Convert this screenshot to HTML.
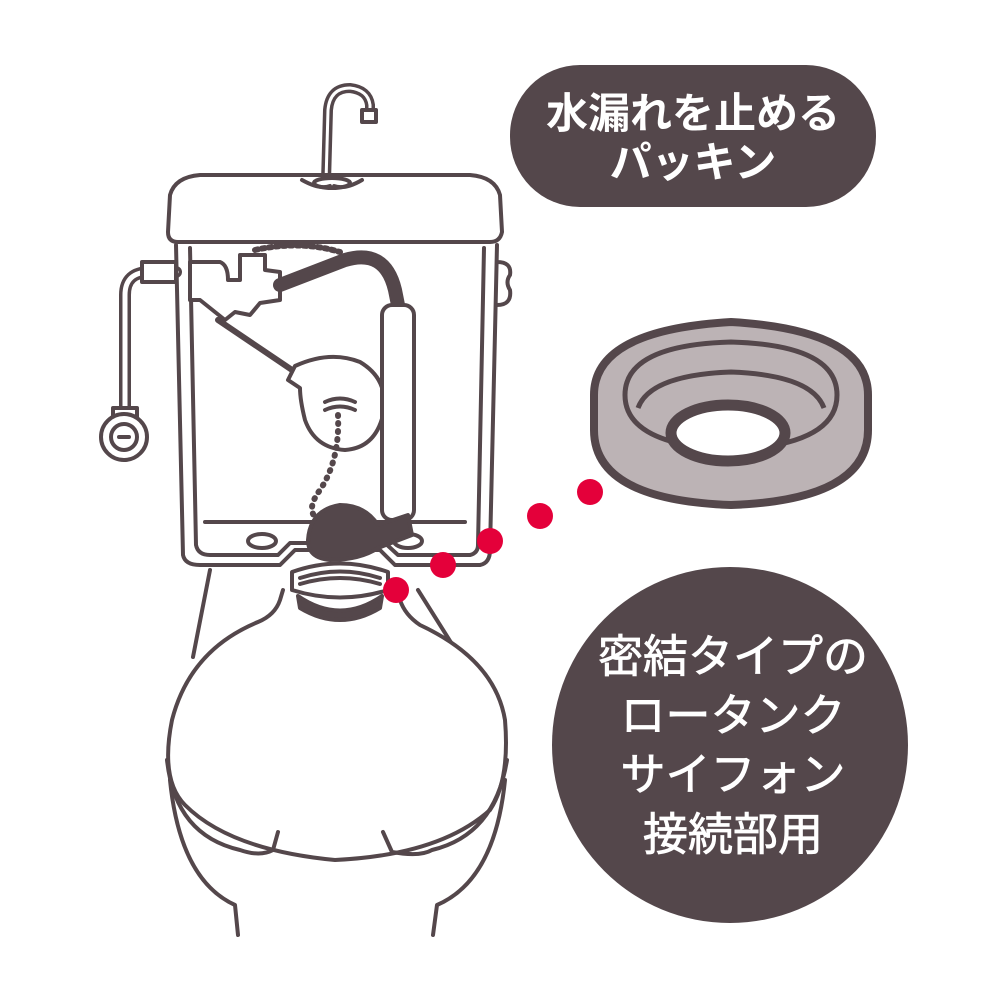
<!DOCTYPE html>
<html><head><meta charset="utf-8"><style>
html,body{margin:0;padding:0;background:#fff}
svg{display:block}
text{font-family:"Liberation Sans","Noto Sans CJK JP",sans-serif}
</style></head><body>
<svg width="1000" height="1000" viewBox="0 0 1000 1000" xmlns="http://www.w3.org/2000/svg">
<g fill="none" stroke="#54474b" stroke-width="4" stroke-linejoin="round" stroke-linecap="round">
<!-- bowl -->
<path d="M210 570 L193 657 M418 590 L462 660"/>
<path d="M283 590 L280 600 Q275 615 258 622 Q190 650 172 720 Q160 780 185 805 Q230 850 335 860 Q440 855 490 810 Q510 780 505 720 Q495 660 420 625 Q405 615 400 600 L395 588" fill="#fff"/>
<path d="M167 760 Q175 835 240 850 Q260 857 273 850 L278 832 M507 760 Q495 835 432 850 Q420 857 392 852 L383 832"/>
<path d="M170 780 Q180 880 235 905 L238 935 M505 780 Q495 880 437 905 L433 935"/>
<!-- faucet -->
<path d="M326 182 L328 110 Q330 88 350 88 Q368 90 370 105 L370 118" stroke-width="10"/>
<path d="M326 182 L328 110 Q330 88 350 88 Q368 90 370 105 L370 118" stroke="#fff" stroke-width="3"/>
<rect x="362" y="110" width="14" height="12" fill="#fff"/>
<!-- lid -->
<path d="M170 195 Q175 177 200 175 L470 175 Q495 177 500 195 L502 232 Q500 242 490 242 L178 242 Q168 242 168 232 Z" fill="#fff"/>
<ellipse cx="332" cy="183" rx="18" ry="5"/>
<path d="M302 180 Q320 190 330 186 M362 180 Q345 190 334 186"/>
<!-- tank body -->
<path d="M176 245 L183 555 Q185 565 200 565 L280 565 L295 550 L380 550 L395 565 L480 565 Q490 563 490 550 L497 245"/>
<path d="M190 248 L196 545 Q198 555 210 555 L278 555 L290 543 L385 543 L398 555 L470 555 Q478 553 478 545 L484 248"/>
<line x1="205" y1="522" x2="465" y2="522"/>
<ellipse cx="262" cy="541" rx="14" ry="7"/>
<ellipse cx="408" cy="541" rx="14" ry="7"/>
<path d="M497 262 Q512 262 510 275 Q505 282 510 290 Q512 305 497 305"/>
<!-- supply pipe -->
<path d="M176 272 L150 272 Q125 272 125 295 L125 410" stroke-width="12"/>
<path d="M176 272 L150 272 Q125 272 125 295 L125 410" stroke="#fff" stroke-width="5"/>
<rect x="142" y="262" width="34" height="20" fill="#fff"/>
<rect x="113" y="408" width="24" height="14" fill="#fff"/>
<circle cx="124" cy="437" r="23" fill="#fff"/>
<circle cx="124" cy="437" r="13"/>
<line x1="119" y1="437" x2="129" y2="437"/>
<!-- valve -->
<path d="M190 262 L220 262 Q228 265 228 280 L240 280 L240 255 L265 255 L265 270 L280 272 L280 300 L260 303 L250 315 L235 312 L225 320 L200 300 L190 300 Z" fill="#fff"/>
<path d="M255 250 Q300 240 340 252" stroke-dasharray="3 4" stroke-width="6"/>
<path d="M280 285 L345 260 Q385 248 395 290 L398 305" stroke-width="14"/>
<!-- float arm -->
<path d="M218 320 L295 372" stroke-width="6"/>
<path d="M295 366 Q330 350 360 362 Q390 380 383 415 Q375 448 345 450 Q315 448 305 420 Q300 400 300 388 L288 380 Z" fill="#fff"/>
<path d="M325 402 Q340 395 355 402 M325 410 Q340 403 355 410"/>
<!-- overflow tube -->
<rect x="382" y="305" width="32" height="215" rx="10" fill="#fff"/>
<!-- chain -->
<path d="M338 415 Q340 460 320 490 Q305 510 318 520" stroke-width="6" stroke-dasharray="1 7"/>
<!-- flapper -->
<path d="M308 540 Q310 510 340 505 Q365 505 378 525 L408 515 L412 535 L378 548 Q360 560 330 560 Q308 558 308 540 Z" fill="#54474b"/>
<path d="M298 596 Q340 625 382 596 L380 608 Q340 632 300 608 Z" fill="#54474b"/>
<path d="M292 572 Q340 555 388 572 L388 590 Q340 605 292 590 Z" fill="#fff"/>
<path d="M300 578 Q340 565 380 578 M300 584 Q340 572 380 584"/>
</g>
<!-- dots -->
<g fill="#e4003a">
<circle cx="396" cy="590" r="13"/><circle cx="443" cy="565" r="13"/>
<circle cx="490" cy="541" r="13"/><circle cx="540" cy="516" r="13"/>
<circle cx="590" cy="492" r="13"/>
</g>
<!-- gasket -->
<g stroke="#54474b" stroke-width="8" fill="#bcb3b5">
<path d="M594 395 Q594 330 731 322 Q868 330 868 395 L868 430 Q868 500 731 505 Q594 500 594 430 Z"/>
<path d="M625 395 Q625 345 731 342 Q837 345 837 395 Q837 445 731 450 Q625 445 625 395 Z" stroke-width="5" fill="none"/>
<path d="M638 408 Q650 375 731 372 Q812 375 824 408" stroke-width="5" fill="none"/>
<ellipse cx="728" cy="433" rx="57" ry="28" fill="#fff" stroke-width="11"/>
</g>
<!-- labels -->
<rect x="510" y="65" width="366" height="142" rx="70" fill="#54474b"/>
<text x="693" y="128" fill="#fff" font-size="42" font-weight="bold" text-anchor="middle">水漏れを止める</text>
<text x="693" y="177" fill="#fff" font-size="42" font-weight="bold" text-anchor="middle">パッキン</text>
<circle cx="730" cy="745" r="178" fill="#54474b"/>
<g fill="#fff" font-size="45" text-anchor="middle" stroke="#fff" stroke-width="0.8">
<text x="733" y="672">密結タイプの</text>
<text x="733" y="731">ロータンク</text>
<text x="733" y="790">サイフォン</text>
<text x="733" y="850">接続部用</text>
</g>
</svg>
</body></html>
